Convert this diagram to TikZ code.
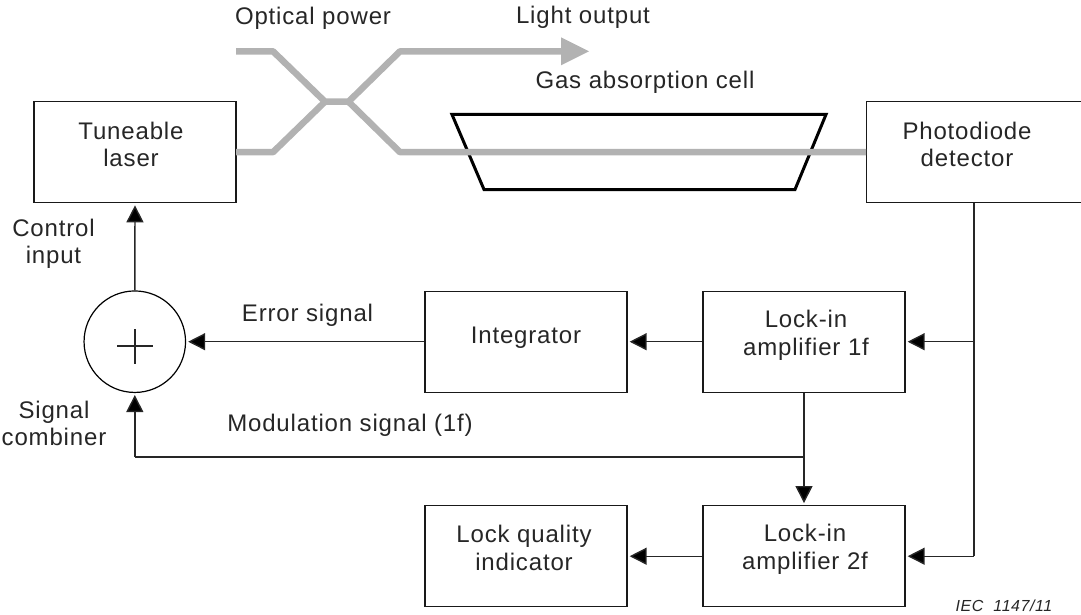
\documentclass[tikz,border=0pt]{standalone}
\usepackage{fontspec}
\setmainfont[LetterSpace=3.5]{Liberation Sans}
\usetikzlibrary{arrows.meta}
\tikzset{
 blockbox/.style={draw=black!90,line width=1.3pt,minimum width=202pt,minimum height=101pt,inner sep=0pt},
 lab/.style={font=\fontsize{24}{27.5}\selectfont,text=black!85,align=center,inner sep=0pt,anchor=base},
 sig/.style={draw=black!85,line width=1.4pt,shorten >=2pt,-{Triangle[length=17pt,width=17pt,fill=black]}},
 sigplain/.style={draw=black!85,line width=1.4pt},
 fibre/.style={draw=black!30,line width=6.5pt,line join=bevel},
}
\begin{document}
\begin{tikzpicture}[x=1pt,y=-1pt]
\useasboundingbox (0,0) rectangle (1081,615);
\node[blockbox] (laser) at (135,152.2) {};
\node[blockbox,minimum width=224pt] (pd) at (978.7,152.2) {};
\node[blockbox] (int) at (526,341.7) {};
\node[blockbox] (li1) at (804,341.7) {};
\node[blockbox] (li2) at (804,556.2) {};
\node[blockbox] (lq) at (526,556.2) {};
\node[draw=black,line width=1.2pt,circle,minimum size=101.5pt,inner sep=0pt] (sum) at (134.8,341.7) {};
\coordinate (pa) at (117,346); \coordinate (pb) at (152.7,346);
\coordinate (pc) at (135,329.3); \coordinate (pd1) at (135,364);
\draw[black!85,line width=1.8pt] (pa)--(pb) (pc)--(pd1);
% gas cell
\coordinate (c1) at (452,114.5); \coordinate (c2) at (826,114.5); \coordinate (c3) at (795,189.5); \coordinate (c4) at (484,189.5);
\draw[black,line width=3pt,line join=miter] (c1)--(c2)--(c3)--(c4)--cycle;
% fibres
\coordinate (f1) at (236,51.3); \coordinate (f2) at (273,51.3); \coordinate (f3) at (325,101.7);
\coordinate (f4) at (348.5,101.7); \coordinate (f5) at (400,51.3); \coordinate (f6) at (562,51.3);
\coordinate (f7) at (236,152.2); \coordinate (f8) at (273,152.2); \coordinate (f9) at (400,152.2);
\draw[fibre] (f1)--(f2)--(f3)--(f4)--(f5)--(f6);
\fill[black!30] (561,37.3) -- (589,51.3) -- (561,65.3) -- cycle;
\draw[fibre] (f7)--(f8)--(f3) (f4)--(f9)--(pd.west);
% connectors
\draw[sig] (sum.north)--(laser.south);
\draw[sig] (int.west)--(sum.east);
\draw[sig] (li1.west)--(int.east);
\coordinate (pdb) at (974,202.7);
\coordinate (j1) at (974,341.7);
\coordinate (j2) at (974,556.2);
\coordinate (j3) at (804,457);
\coordinate (j4) at (134.8,457);
\draw[sigplain] (pdb)--(j2);
\draw[sig] (j1)--(li1.east);
\draw[sig] (j2)--(li2.east);
\draw[sig] (li2.west)--(lq.east);
\draw[sig] (li1.south)--(li2.north);
\draw[sigplain] (j3)--(j4);
\draw[sig] (j4)--(sum.south);
% box texts
\node[lab] (tlaser) at (131,166.5) {Tuneable\\laser};
\node[lab] (tpd) at (967,166.5) {Photodiode\\detector};
\node[lab] (tint) at (526,343.5) {Integrator};
\node[lab] (tli1) at (806,355) {Lock-in\\amplifier 1f};
\node[lab] (tli2) at (805,569) {Lock-in\\amplifier 2f};
\node[lab] (tlq) at (524,570) {Lock quality\\indicator};
% labels
\node[lab] (t1) at (313,25) {Optical power};
\node[lab] (t2) at (583,24) {Light output};
\node[lab] (t3) at (645,88.7) {Gas absorption cell};
\node[lab] (t4) at (53.5,263.5) {Control\\input};
\node[lab] (t5) at (54,445.7) {Signal\\combiner};
\node[lab] (t6) at (307.5,321) {Error signal};
\node[lab] (t7) at (350,431) {Modulation signal (1f)};
\node[lab,font=\fontsize{16}{18}\selectfont\itshape] (t8) at (1004,611.5) {IEC\ \ 1147/11};
\end{tikzpicture}
\end{document}
